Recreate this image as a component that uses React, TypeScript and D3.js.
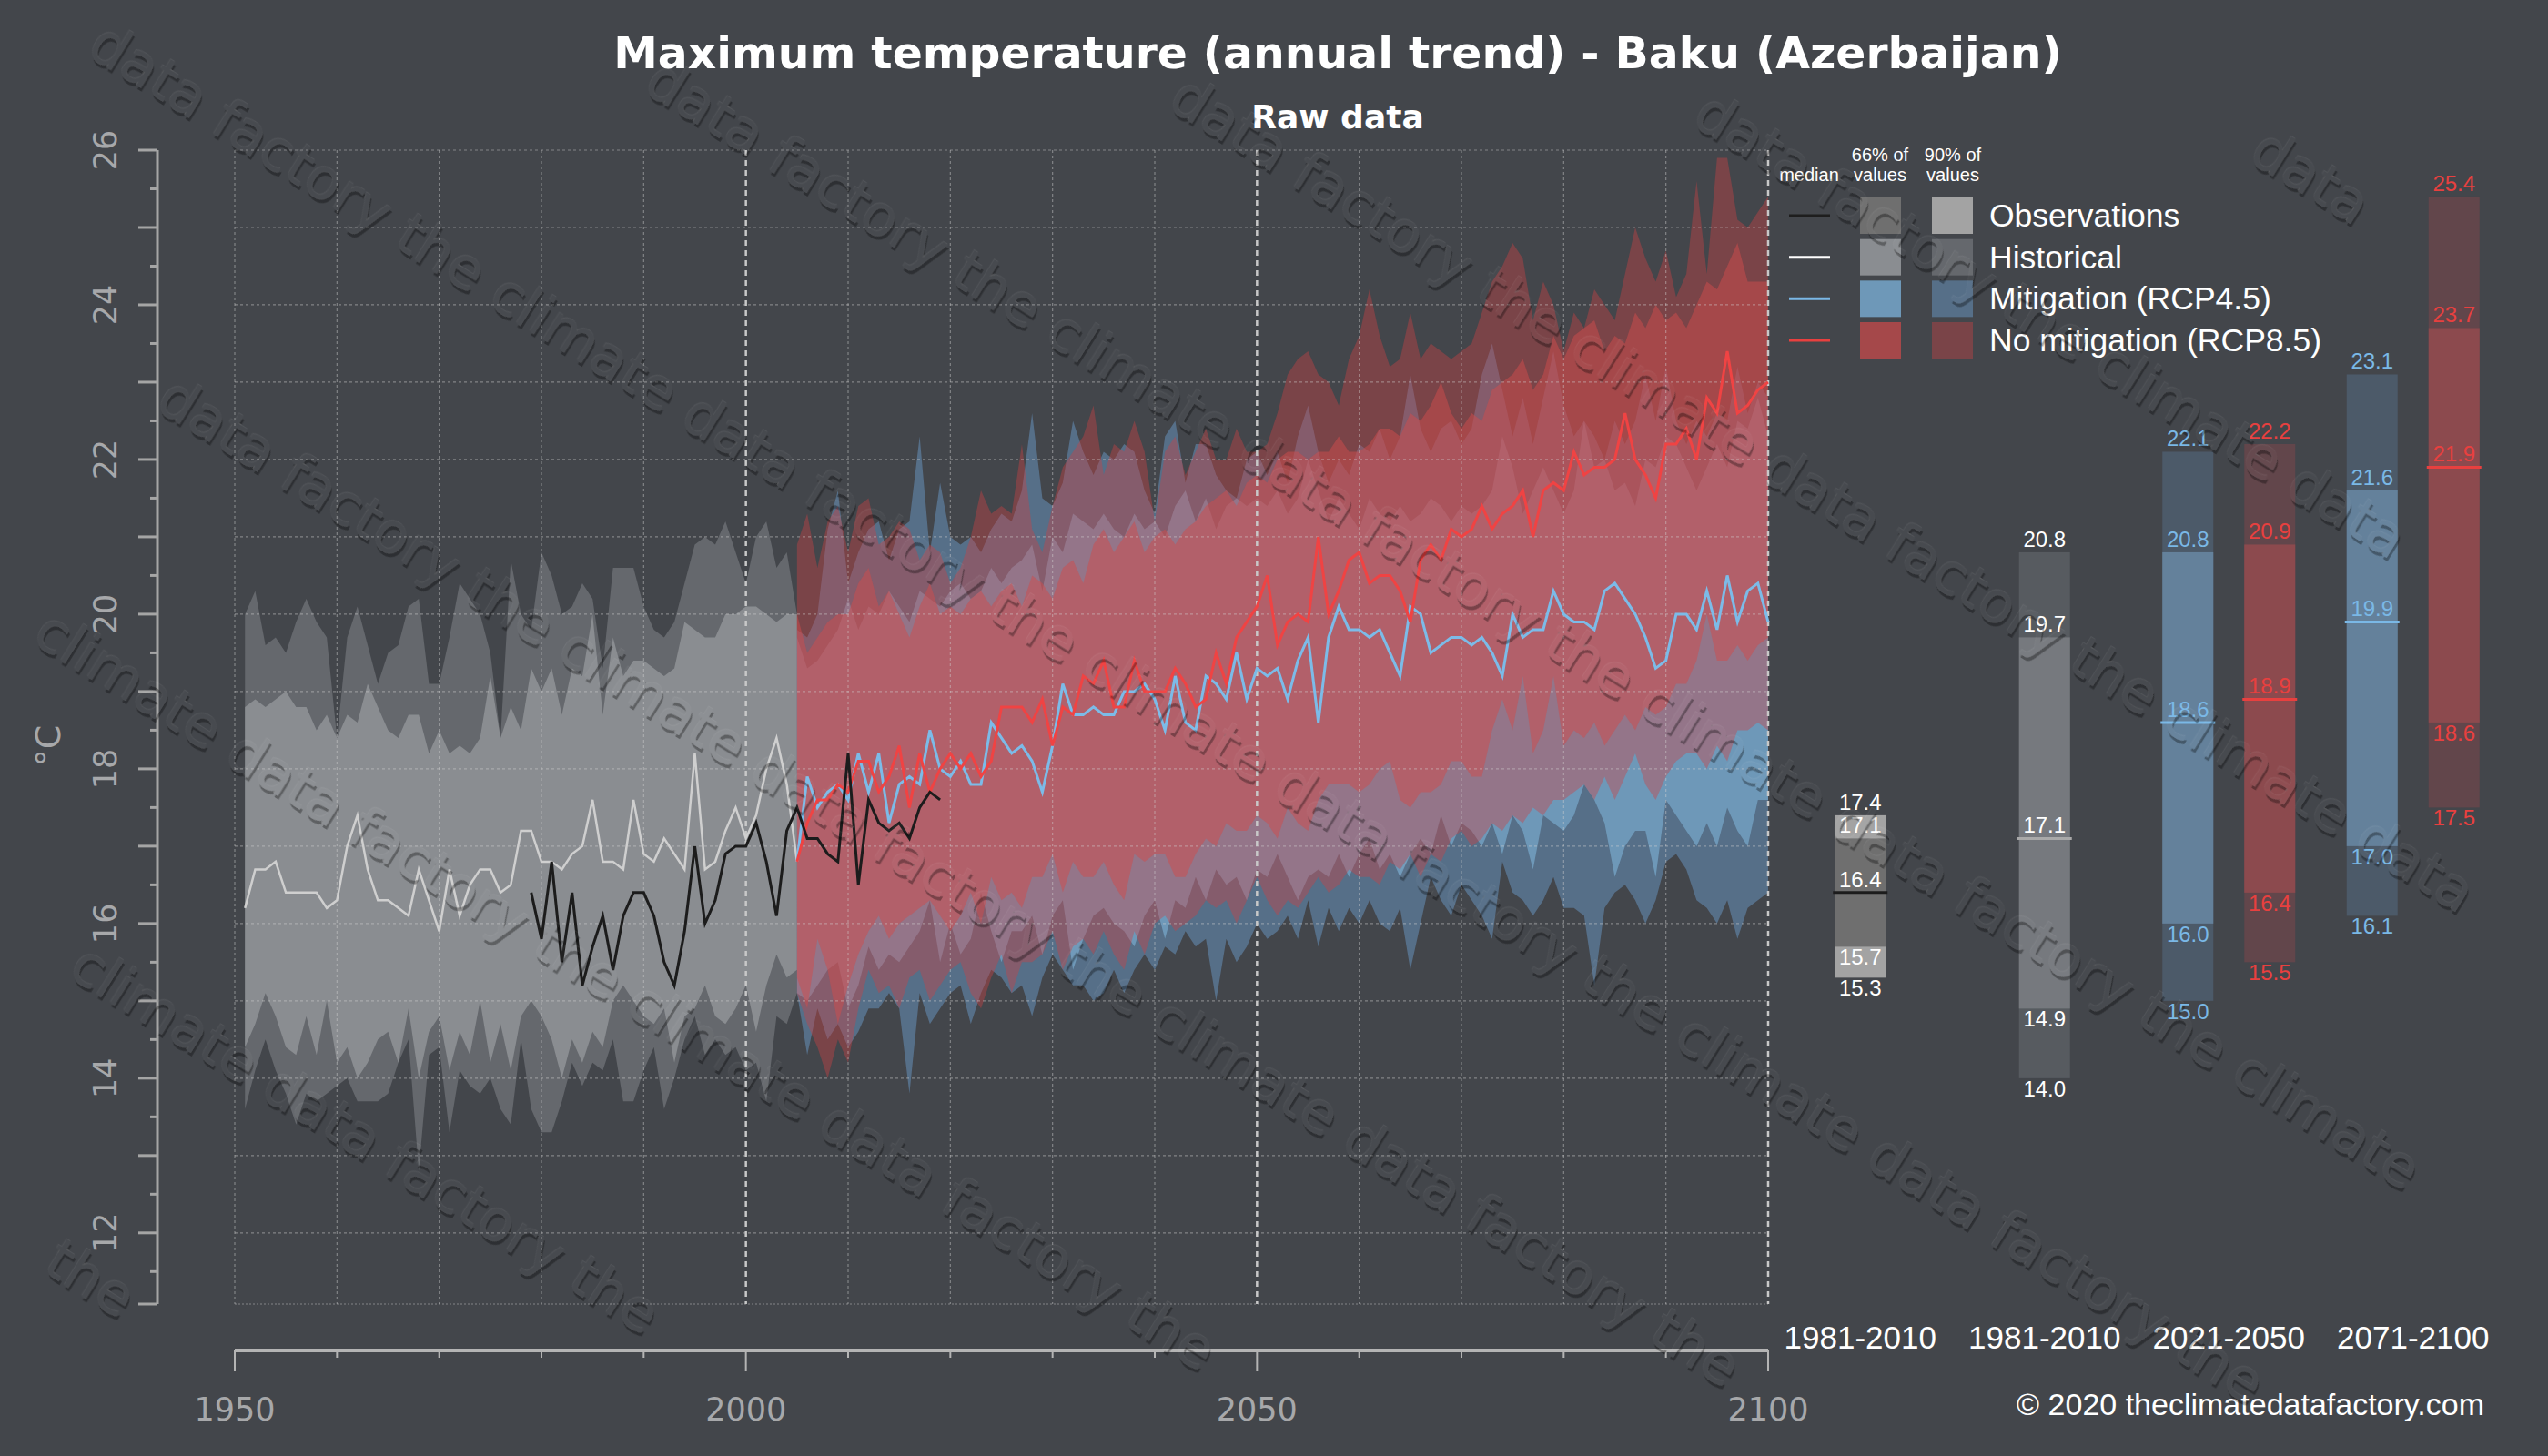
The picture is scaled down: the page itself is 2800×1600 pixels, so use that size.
import React from "react";
import * as d3 from "d3";

// ---------------- data (°C) ----------------
const HIST_START = 1951;
const histMedian = [
  16.2, 16.7, 16.7, 16.8, 16.4, 16.4, 16.4, 16.4, 16.2, 16.3,
  17.0, 17.4, 16.7, 16.3, 16.3, 16.2, 16.1, 16.7, 16.3, 15.9,
  16.7, 16.1, 16.5, 16.7, 16.7, 16.4, 16.5, 17.2, 17.2, 16.8,
  16.8, 16.7, 16.9, 17.0, 17.6, 16.8, 16.8, 16.7, 17.6, 16.9,
  16.8, 17.1, 16.9, 16.7, 18.2, 16.7, 16.8, 17.2, 17.5, 17.1,
  17.4, 18.0, 18.4, 17.8, 16.8,
];
const hist66Hi = [
  18.8, 18.9, 18.8, 18.9, 19.0, 18.8, 18.8, 18.5, 18.7, 18.4,
  18.7, 18.6, 19.1, 18.8, 18.5, 18.4, 18.7, 18.7, 18.2, 18.5,
  18.2, 18.3, 18.2, 18.4, 19.2, 18.4, 18.8, 18.5, 19.3, 19.0,
  19.3, 18.7, 19.3, 19.2, 20.0, 18.7, 19.7, 19.2, 19.4, 19.4,
  19.3, 19.2, 19.3, 19.9, 19.8, 19.7, 19.7, 20.0, 20.0, 20.1,
  20.1, 20.0, 19.9, 20.0, 20.0,
];
const hist90Hi = [
  20.0, 20.3, 19.6, 19.7, 19.5, 19.9, 20.2, 19.9, 19.7, 18.4,
  19.7, 20.1, 19.6, 19.1, 19.5, 19.6, 20.1, 20.2, 19.1, 19.1,
  19.7, 20.4, 20.2, 20.0, 19.5, 18.4, 20.7, 20.0, 19.8, 20.8,
  20.5, 20.0, 20.1, 20.4, 20.2, 19.3, 20.6, 20.6, 20.6, 20.1,
  19.8, 19.7, 19.9, 20.4, 20.9, 21.0, 20.9, 21.2, 20.8, 20.4,
  21.0, 21.2, 20.6, 20.8, 20.0,
];
const hist66Lo = [
  14.4, 14.7, 15.1, 14.8, 14.4, 14.3, 14.8, 14.3, 15.0, 14.2,
  14.4, 14.0, 14.2, 14.5, 14.6, 14.2, 14.9, 14.0, 14.6, 14.8,
  14.1, 14.6, 14.3, 15.0, 14.2, 14.7, 14.1, 14.8, 15.0, 14.8,
  14.5, 14.0, 14.5, 14.2, 14.6, 14.4, 15.0, 15.2, 15.0, 14.8,
  14.7, 14.9, 14.2, 14.8, 14.9, 15.2, 14.8, 14.7, 14.9, 15.2,
  14.6, 15.2, 15.6, 15.3, 15.4,
];
const hist90Lo = [
  13.6, 14.1, 14.5, 14.1, 13.8, 13.4, 13.8, 13.7, 13.8, 13.9,
  14.0, 13.7, 13.7, 13.7, 13.8, 14.2, 14.5, 12.8, 14.3, 14.4,
  13.3, 14.1, 13.9, 13.8, 14.0, 13.6, 13.4, 14.5, 13.6, 13.3,
  13.3, 13.7, 14.2, 13.9, 14.2, 14.1, 14.5, 13.7, 13.7, 14.1,
  14.4, 13.6, 14.0, 14.5, 14.8, 14.3, 14.5, 14.3, 14.4, 14.1,
  14.2, 13.7, 14.8, 14.7, 15.1,
];

const OBS_START = 1979;
const obsValues = [
  16.4, 15.8, 16.8, 15.5, 16.4, 15.2, 15.7, 16.1, 15.4, 16.1,
  16.4, 16.4, 16.1, 15.5, 15.2, 15.9, 17.0, 16.0, 16.3, 16.9,
  17.0, 17.0, 17.3, 16.8, 16.1, 17.2, 17.5, 17.1, 17.1, 16.9,
  16.8, 18.2, 16.5, 17.6, 17.3, 17.2, 17.3, 17.1, 17.5, 17.7,
  17.6,
];

const RCP_START = 2005;
const rcp45Median = [
  16.8, 17.9, 17.5, 17.7, 17.8, 17.6, 18.2, 17.7, 18.2, 17.3,
  17.8, 17.9, 17.8, 18.5, 18.0, 17.9, 18.1, 17.8, 17.8, 18.6,
  18.4, 18.2, 18.3, 18.1, 17.7, 18.3, 19.1, 18.7, 18.7, 18.8,
  18.7, 18.7, 19.0, 19.0, 19.1, 18.9, 18.5, 19.2, 18.6, 18.5,
  19.2, 19.1, 18.9, 19.5, 18.9, 19.3, 19.2, 19.3, 18.9, 19.4,
  19.7, 18.6, 19.7, 20.1, 19.8, 19.8, 19.7, 19.8, 19.5, 19.2,
  20.1, 20.0, 19.5, 19.6, 19.7, 19.7, 19.6, 19.7, 19.5, 19.2,
  20.0, 19.7, 19.8, 19.8, 20.3, 20.0, 19.9, 19.9, 19.8, 20.3,
  20.4, 20.2, 20.0, 19.7, 19.3, 19.4, 20.0, 20.0, 19.8, 20.3,
  19.8, 20.5, 19.9, 20.3, 20.4, 19.9,
];
const rcp85Median = [
  16.8, 17.3, 17.6, 17.6, 17.8, 17.7, 18.1, 18.1, 17.7, 17.9,
  18.3, 17.5, 18.2, 17.7, 18.0, 18.2, 18.0, 18.2, 17.9, 18.1,
  18.8, 18.8, 18.8, 18.6, 18.9, 18.3, 18.8, 18.7, 19.2, 19.1,
  19.4, 18.8, 18.8, 19.4, 19.0, 19.0, 19.0, 19.3, 19.1, 18.8,
  18.9, 19.5, 19.1, 19.7, 19.9, 20.1, 20.5, 19.6, 19.9, 20.0,
  19.9, 21.0, 20.0, 20.3, 20.7, 20.8, 20.4, 20.5, 20.5, 20.3,
  19.9, 20.7, 20.9, 20.7, 21.1, 21.0, 21.1, 21.4, 21.1, 21.3,
  21.4, 21.6, 21.0, 21.6, 21.7, 21.6, 22.1, 21.8, 21.9, 21.9,
  22.0, 22.6, 22.0, 21.8, 21.5, 22.2, 22.2, 22.4, 22.0, 22.8,
  22.6, 23.4, 22.6, 22.7, 22.9, 23.0,
];
const rcp45Hi90 = [
  19.8, 19.7, 20.0, 21.1, 21.6, 20.4,
  20.8, 21.1, 21.2, 20.7, 21.1, 21.2, 22.3, 20.8, 21.7, 21.0,
  20.9, 21.0, 20.8, 21.1, 21.3, 21.2, 21.6, 22.6, 21.5, 21.4,
  21.7, 22.5, 22.1, 21.8, 22.1, 22.0, 22.2, 22.1, 21.6, 21.3,
  22.3, 22.5, 21.7, 22.2, 22.2, 21.8, 21.6, 21.5, 22.0, 22.1,
  21.8, 22.1, 21.7, 22.3, 22.7, 22.1, 21.7, 22.0, 21.8, 22.2,
  22.1, 22.4, 22.0, 22.3, 23.1, 22.4, 22.1, 22.4, 22.5, 22.2,
  22.4, 23.1, 23.5, 22.9, 22.3, 22.8, 22.2, 22.8, 23.4, 22.7,
  22.3, 22.5, 22.3, 22.0, 22.5, 22.2, 22.5, 23.1, 22.5, 23.2,
  22.5, 22.2, 22.5, 22.3, 22.6, 22.5, 23.2, 22.6, 23.0, 22.8,
];
const rcp45Hi66 = [
  19.7, 19.3, 19.4, 19.6, 19.8, 20.2,
  19.8, 20.1, 20.0, 20.3, 20.1, 19.9, 20.3, 20.2, 20.1, 20.3,
  20.4, 20.2, 20.3, 20.6, 20.4, 20.6, 20.7, 20.9, 20.3, 21.0,
  20.8, 21.3, 21.2, 21.1, 21.3, 21.1, 21.0, 21.3, 21.1, 21.2,
  21.0, 21.4, 21.6, 21.2, 21.5, 21.1, 21.4, 21.5, 21.4, 21.5,
  21.4, 21.6, 21.3, 21.5, 22.0, 21.6, 21.2, 21.5, 21.3, 21.1,
  21.5, 21.3, 21.2, 21.4, 21.2, 21.3, 21.5, 21.4, 21.2, 21.4,
  21.3, 21.4, 21.6, 22.3, 21.9, 21.3, 21.6, 21.9, 21.6, 21.3,
  21.6, 22.5, 21.9, 22.0, 21.6, 21.7, 21.4, 22.0, 21.9, 22.3,
  22.2, 21.9, 21.6, 21.9, 22.2, 21.9, 22.5, 22.4, 22.8, 22.3,
];
const rcp45Lo66 = [
  15.1, 15.0, 15.2, 15.4, 15.5, 14.9,
  15.2, 15.7, 15.4, 15.6, 15.5, 15.7, 15.9, 16.3, 15.5, 16.0,
  15.6, 15.8, 16.4, 15.9, 15.5, 15.9, 15.9, 16.1, 15.6, 16.1,
  16.3, 15.4, 15.8, 16.1, 16.2, 16.0, 15.9, 15.7, 16.1, 16.3,
  15.8, 16.3, 16.2, 16.6, 16.3, 16.7, 16.5, 16.6, 16.3, 16.7,
  16.6, 16.9, 16.6, 16.3, 16.6, 16.7, 16.6, 16.9, 16.6, 16.9,
  17.1, 16.7, 16.9, 16.6, 16.9, 17.1, 16.9, 17.4, 17.0, 17.3,
  17.2, 17.0, 17.3, 16.9, 17.4, 17.2, 16.7, 17.4, 17.3, 17.2,
  17.4, 17.8, 17.6, 17.3, 16.6, 17.0, 17.2, 17.2, 16.6, 17.6,
  17.4, 17.2, 17.0, 17.3, 17.0, 17.5, 17.2, 17.0, 17.6, 17.6,
];
const rcp45Lo90 = [
  15.1, 14.3, 14.9, 14.5, 14.7, 14.4,
  14.6, 14.9, 14.9, 15.1, 14.9, 13.8, 15.1, 14.7, 14.9, 15.1,
  15.2, 14.7, 15.1, 15.4, 15.3, 15.1, 15.2, 14.8, 15.3, 15.6,
  15.4, 15.2, 15.2, 15.0, 15.1, 15.4, 15.1, 15.4, 15.6, 15.4,
  15.7, 15.6, 15.9, 15.7, 15.8, 15.0, 15.8, 15.5, 15.7, 16.0,
  15.8, 15.9, 16.1, 15.8, 16.3, 15.7, 16.2, 15.9, 16.2, 16.0,
  16.3, 16.0, 15.9, 16.2, 15.4, 16.0, 16.6, 16.3, 16.1, 16.5,
  16.3, 16.1, 15.8, 16.8, 16.4, 16.3, 16.1, 16.3, 16.6, 16.2,
  16.2, 16.1, 15.2, 16.2, 16.4, 16.5, 16.3, 16.0, 16.3, 16.8,
  16.9, 16.7, 16.3, 16.2, 16.0, 16.3, 15.8, 16.2, 16.3, 16.4,
];
const rcp85Hi90 = [
  20.9, 21.3, 20.6, 21.2, 21.4, 20.8,
  21.4, 21.5, 20.9, 21.0, 21.2, 21.1, 20.7, 20.9, 20.8, 20.4,
  20.6, 21.0, 21.6, 21.3, 21.4, 21.3, 22.2, 21.1, 20.8, 21.4,
  21.9, 22.1, 22.3, 22.7, 21.8, 22.2, 22.1, 22.5, 22.1, 21.2,
  22.1, 22.3, 21.8, 22.1, 22.4, 22.0, 22.0, 22.4, 22.1, 22.1,
  22.2, 22.6, 23.1, 23.3, 23.4, 23.1, 23.0, 22.7, 23.3, 23.6,
  24.2, 23.6, 23.2, 23.3, 23.9, 23.3, 23.5, 23.4, 23.3, 23.4,
  23.5, 23.9, 24.3, 24.5, 24.8, 24.6, 23.8, 24.3, 24.0, 23.4,
  23.9, 23.7, 24.2, 24.0, 23.8, 24.4, 25.0, 24.6, 24.3, 24.7,
  24.1, 24.4, 25.6, 24.4, 25.9, 25.9, 25.1, 25.0, 25.2, 25.4,
];
const rcp85Hi66 = [
  20.0, 19.5, 19.7, 19.9, 20.0, 20.0,
  20.4, 20.6, 20.1, 20.3, 20.0, 19.7, 20.1, 20.4, 20.0, 20.1,
  20.0, 20.2, 20.3, 20.1, 20.3, 20.4, 20.1, 20.5, 20.4, 20.2,
  20.6, 20.7, 20.4, 20.9, 21.1, 20.8, 21.0, 21.2, 20.8, 21.0,
  21.1, 20.9, 21.1, 21.2, 21.4, 21.5, 21.6, 21.4, 21.7, 21.8,
  21.7, 22.0, 22.1, 22.1, 22.0, 22.1, 22.1, 22.3, 22.1, 22.1,
  22.2, 22.4, 22.4, 22.3, 22.6, 22.5, 22.7, 23.0, 22.6, 22.4,
  22.6, 22.5, 22.9, 23.0, 23.1, 23.3, 22.9, 23.1, 23.6, 23.3,
  23.6, 23.7, 23.8, 23.4, 23.6, 23.5, 23.9, 23.7, 24.0, 23.8,
  23.9, 23.7, 24.0, 24.3, 24.2, 24.5, 24.8, 24.3, 24.3, 24.3,
];
const rcp85Lo66 = [
  15.3, 14.9, 15.8, 15.4, 14.7, 15.2,
  15.6, 15.9, 16.1, 15.8, 16.0, 16.1, 16.2, 16.3, 16.1, 15.9,
  16.1, 16.4, 16.0, 16.6, 16.3, 16.4, 16.2, 16.6, 16.6, 16.9,
  16.4, 16.8, 16.6, 16.6, 16.8, 16.5, 16.3, 16.9, 16.8, 16.9,
  16.9, 16.6, 16.6, 16.9, 17.1, 17.0, 17.3, 17.2, 17.2, 17.4,
  17.3, 17.1, 17.5, 17.3, 17.2, 17.6, 17.8, 17.8, 17.8, 17.7,
  17.8, 18.0, 18.1, 17.6, 17.5, 17.7, 17.7, 17.8, 18.1, 18.1,
  17.9, 17.9, 18.5, 18.9, 18.5, 19.2, 18.2, 18.5, 19.2, 18.3,
  18.5, 18.4, 18.6, 18.3, 18.5, 18.7, 18.5, 18.8, 18.7, 18.8,
  19.1, 19.1, 19.4, 20.0, 19.4, 19.4, 19.6, 19.4, 19.6, 19.7,
];
const rcp85Lo90 = [
  15.1, 14.7, 14.4, 14.0, 14.5, 14.2,
  14.9, 15.4, 15.1, 15.2, 14.9, 15.3, 15.4, 15.0, 15.2, 15.4,
  15.5, 15.1, 14.9, 15.3, 15.6, 15.1, 15.5, 15.5, 15.6, 15.9,
  15.4, 15.7, 15.8, 15.6, 15.9, 15.6, 15.4, 15.9, 15.6, 16.0,
  16.1, 15.9, 16.0, 16.1, 16.3, 16.2, 16.3, 16.0, 16.3, 16.6,
  16.3, 16.1, 16.3, 16.2, 16.4, 16.6, 16.4, 16.5, 16.7, 16.6,
  16.6, 16.5, 16.8, 16.7, 16.9, 16.6, 16.9, 16.8, 17.1, 17.2,
  17.0, 17.1, 17.3, 17.2, 17.4, 17.3, 17.5, 17.4, 17.6, 17.6,
  17.7, 17.8, 17.6, 17.9, 17.6, 17.9, 18.2, 17.8, 17.6, 17.9,
  18.1, 18.2, 18.2, 18.0, 18.3, 18.1, 18.5, 18.5, 18.6, 18.5,
];

// summary bars: [5%, 17%, median, 83%, 95%]
const boxGroups = ["obs", "hist", "mid", "end"];
const periodLabels = ["1981-2010", "1981-2010", "2021-2050", "2071-2100"];
const obsBox = [15.3, 15.7, 16.4, 17.1, 17.4];
const histBox = [14.0, 14.9, 17.1, 19.7, 20.8];
const rcp45MidBox = [15.0, 16.0, 18.6, 20.8, 22.1];
const rcp85MidBox = [15.5, 16.4, 18.9, 20.9, 22.2];
const rcp45EndBox = [16.1, 17.0, 19.9, 21.6, 23.1];
const rcp85EndBox = [17.5, 18.6, 21.9, 23.7, 25.4];

const legendRows = ["Observations", "Historical", "Mitigation (RCP4.5)", "No mitigation (RCP8.5)"];
const xLabels = [1950, 2000, 2050, 2100];
const yLabels = [12, 14, 16, 18, 20, 22, 24, 26];

// ---------------- styles ----------------
const BG = "#43464b";
const SANS = "'Liberation Sans', Arial, sans-serif";
const DEJA = "'DejaVu Sans', sans-serif";
const AXIS_TXT = "#a7a8aa";

const legendStyles = [
  { med: "#1e1e1e", c66: "#6f6f6f", c90: "#a3a3a3" },
  { med: "#ffffff", c66: "#8a8d91", c90: "#65686d" },
  { med: "#7ab8e6", c66: "#6e98b8", c90: "#566f88" },
  { med: "#e8403f", c66: "#a5484a", c90: "#7a4448" },
];

// watermark words, with advance widths (em) in DejaVu Sans
const wmWords = [
  { w: "the", em: 1.641 },
  { w: "climate", em: 3.7 },
  { w: "data", em: 2.253 },
  { w: "factory", em: 3.522 },
];

export default function App() {
  const W = 2800;
  const H = 1600;
  const x = d3.scaleLinear().domain([1950, 2100]).range([258, 1943]);
  const y = d3.scaleLinear().domain([11.08, 26]).range([1433, 165]);
  const plotTop = y(26);
  const plotBottom = y(11.08);

  const band = (lo: number[], hi: number[], start: number) =>
    d3
      .area<number>()
      .x((_, i) => x(start + i))
      .y0((_, i) => y(lo[i]))
      .y1((_, i) => y(hi[i]))(lo) || "";
  const line = (vals: number[], start: number) =>
    d3
      .line<number>()
      .x((_, i) => x(start + i))
      .y((d) => y(d))(vals) || "";

  const gx = d3.scaleBand().domain(boxGroups).range([1943, 2753]);
  const gc = (g: string) => (gx(g) as number) + gx.bandwidth() / 2;
  const legY = d3.scalePoint().domain(legendRows).range([237, 374]);

  const decades = d3.range(1950, 2101, 10);
  const gridVals = d3.range(12, 27, 1);
  const halfTicks = d3.range(11.5, 26, 1);

  const drawBox = (
    vals: number[],
    cx: number,
    outer: string,
    inner: string,
    med: string,
    txt: string,
    key: string
  ) => {
    const [p5, p17, m, p83, p95] = vals;
    const w = 56;
    const ts = { fontFamily: SANS, fontSize: 24, fill: txt, textAnchor: "middle" as const };
    return (
      <g key={key}>
        <rect x={cx - w / 2} y={y(p95)} width={w} height={y(p5) - y(p95)} fill={outer} />
        <rect x={cx - w / 2} y={y(p83)} width={w} height={y(p17) - y(p83)} fill={inner} />
        <line x1={cx - w / 2 - 2} x2={cx + w / 2 + 2} y1={y(m)} y2={y(m)} stroke={med} strokeWidth={3} />
        {[p95, p83, m].map((v, i) => (
          <text key={"u" + i} x={cx} y={y(v) - 6} {...ts}>{v.toFixed(1)}</text>
        ))}
        {[p17, p5].map((v, i) => (
          <text key={"l" + i} x={cx} y={y(v) + 20} {...ts}>{v.toFixed(1)}</text>
        ))}
      </g>
    );
  };

  // watermark: words laid along rotated rows, kept only when fully inside the page
  const wmSize = 62;
  const ang = (32 * Math.PI) / 180;
  const ca = Math.cos(ang);
  const sa = Math.sin(ang);
  const toScreen = (u: number, v: number) => [u * ca - v * sa, u * sa + v * ca];
  const inside = (p: number[]) => p[0] >= 6 && p[0] <= W - 6 && p[1] >= 6 && p[1] <= H - 6;
  const wmPlaced: { u: number; v: number; t: string }[] = [];
  d3.range(-6, 6).forEach((k) => {
    const v = k * 290;
    let u = -260 + ((k + 6) % 3) * 270;
    let wi = 0;
    while (u < 3400) {
      const word = wmWords[wi % 4];
      const len = word.em * wmSize;
      const top = v - wmSize * 0.82;
      const bot = v + wmSize * 0.26;
      const corners = [toScreen(u, top), toScreen(u + len, top), toScreen(u, bot), toScreen(u + len, bot)];
      if (corners.every(inside)) wmPlaced.push({ u, v, t: word.w });
      u += len + 0.318 * wmSize;
      wi += 1;
    }
  });

  return (
    <svg
      width={W}
      height={H}
      viewBox={`0 0 ${W} ${H}`}
      style={{ position: "absolute", left: 0, top: 0, display: "block" }}
    >
      <defs>
        <filter id="emboss" filterUnits="userSpaceOnUse" x={-4000} y={-4000} width={10000} height={10000}>
          <feOffset in="SourceAlpha" dx={2.5} dy={3} result="off" />
          <feComposite in="off" in2="SourceAlpha" operator="out" result="edge" />
          <feFlood floodColor="#000000" floodOpacity={0.32} result="dark" />
          <feComposite in="dark" in2="edge" operator="in" result="shadow" />
          <feOffset in="SourceAlpha" dx={-1} dy={-1} result="off2" />
          <feComposite in="off2" in2="SourceAlpha" operator="out" result="edge2" />
          <feFlood floodColor="#ffffff" floodOpacity={0.07} result="light" />
          <feComposite in="light" in2="edge2" operator="in" result="hl" />
          <feFlood floodColor="#ffffff" floodOpacity={0.025} result="face" />
          <feComposite in="face" in2="SourceAlpha" operator="in" result="facefill" />
          <feMerge>
            <feMergeNode in="shadow" />
            <feMergeNode in="hl" />
            <feMergeNode in="facefill" />
          </feMerge>
        </filter>
      </defs>

      <rect x={0} y={0} width={W} height={H} fill={BG} />

      {/* historical bands */}
      <path d={band(hist90Lo, hist90Hi, HIST_START)} fill="#65686d" />
      <path d={band(hist66Lo, hist66Hi, HIST_START)} fill="#8a8d91" />

      {/* scenario bands */}
      <path d={band(rcp45Lo90, rcp45Hi90, RCP_START)} fill="#6998c5" fillOpacity={0.5} />
      <path d={band(rcp45Lo66, rcp45Hi66, RCP_START)} fill="#86c1e8" fillOpacity={0.5} />
      <path d={band(rcp85Lo90, rcp85Hi90, RCP_START)} fill="#cc4143" fillOpacity={0.4} />
      <path d={band(rcp85Lo66, rcp85Hi66, RCP_START)} fill="#d04c4c" fillOpacity={0.5} />

      {/* grid (drawn over the bands) */}
      <g stroke="#d0d0d0" strokeOpacity={0.45} strokeWidth={1.2}>
        {gridVals.map((v) => (
          <line key={"h" + v} x1={x(1950)} x2={x(2100)} y1={y(v)} y2={y(v)} strokeDasharray="3,3" />
        ))}
        <line x1={x(1950)} x2={x(2100)} y1={plotBottom} y2={plotBottom} strokeDasharray="2,2" />
        {decades.map((d) =>
          d % 50 === 0 && d > 1950 ? null : (
            <line key={"v" + d} x1={x(d)} x2={x(d)} y1={plotTop} y2={plotBottom} strokeDasharray="3,3" />
          )
        )}
      </g>
      {[2000, 2050, 2100].map((d) => (
        <line key={"m" + d} x1={x(d)} x2={x(d)} y1={plotTop} y2={plotBottom}
          stroke="#c8c8c8" strokeWidth={2.5} strokeDasharray="6,5" />
      ))}

      {/* median lines */}
      <path d={line(histMedian, HIST_START)} fill="none" stroke="#cfcfcf" strokeWidth={2.5} />
      <path d={line(rcp45Median, RCP_START)} fill="none" stroke="#7cbbe8" strokeWidth={3} />
      <path d={line(rcp85Median, RCP_START)} fill="none" stroke="#f04343" strokeWidth={3} />
      <path d={line(obsValues, OBS_START)} fill="none" stroke="#1c1c1c" strokeWidth={3} />

      {/* y axis */}
      <g>
        <line x1={173} x2={173} y1={plotTop} y2={plotBottom} stroke="#a5a5a5" strokeWidth={3} />
        {gridVals.map((v) => (
          <line key={"yt" + v} x1={152} x2={173} y1={y(v)} y2={y(v)} stroke="#a5a5a5" strokeWidth={3} />
        ))}
        {halfTicks.map((v) => (
          <line key={"yh" + v} x1={165} x2={173} y1={y(v)} y2={y(v)} stroke="#a5a5a5" strokeWidth={3} />
        ))}
        <line x1={152} x2={173} y1={plotBottom} y2={plotBottom} stroke="#a5a5a5" strokeWidth={3} />
        {yLabels.map((v) => (
          <text key={"yl" + v} transform={`translate(128,${y(v)}) rotate(-90)`}
            fontFamily={DEJA} fontSize={35} fill={AXIS_TXT} textAnchor="middle">{v}</text>
        ))}
        <text transform={`translate(66,${y(18.3)}) rotate(-90)`} fontFamily={DEJA} fontSize={38}
          fill={AXIS_TXT} textAnchor="middle">°C</text>
      </g>

      {/* x axis */}
      <g>
        <line x1={x(1950)} x2={x(2100)} y1={1484} y2={1484} stroke="#b4b4b4" strokeWidth={4} />
        {decades.map((d) => (
          <line key={"xt" + d} x1={x(d)} x2={x(d)} y1={1484} y2={d % 50 === 0 ? 1507 : 1492}
            stroke="#b4b4b4" strokeWidth={2} />
        ))}
        {xLabels.map((d) => (
          <text key={"xl" + d} x={x(d)} y={1561} fontFamily={DEJA} fontSize={35} fill={AXIS_TXT}
            textAnchor="middle">{d}</text>
        ))}
      </g>

      {/* summary bars */}
      {drawBox(obsBox, gc("obs"), "#a3a3a3", "#6f6f6f", "#1c1c1c", "#ffffff", "bo")}
      {drawBox(histBox, gc("hist"), "#575b60", "#76797e", "#a9a9a9", "#ffffff", "bh")}
      {drawBox(rcp45MidBox, gc("mid") - 45, "#4c5a69", "#64819b", "#7ab8e6", "#7ab8e6", "b45m")}
      {drawBox(rcp85MidBox, gc("mid") + 45, "#62464b", "#8c4a4e", "#e8403f", "#e8403f", "b85m")}
      {drawBox(rcp45EndBox, gc("end") - 45, "#4c5a69", "#64819b", "#7ab8e6", "#7ab8e6", "b45e")}
      {drawBox(rcp85EndBox, gc("end") + 45, "#62464b", "#8c4a4e", "#e8403f", "#e8403f", "b85e")}
      {boxGroups.map((g, i) => (
        <text key={"pl" + g} x={gc(g)} y={1482} fontFamily={SANS} fontSize={35} fill="#ffffff"
          textAnchor="middle">{periodLabels[i]}</text>
      ))}

      {/* legend */}
      <g fontFamily={SANS} fill="#ffffff">
        <text x={1988} y={199} fontSize={20} textAnchor="middle">median</text>
        <text x={2066} y={177} fontSize={20} textAnchor="middle">66% of</text>
        <text x={2066} y={199} fontSize={20} textAnchor="middle">values</text>
        <text x={2146} y={177} fontSize={20} textAnchor="middle">90% of</text>
        <text x={2146} y={199} fontSize={20} textAnchor="middle">values</text>
        {legendRows.map((r, i) => {
          const cy = legY(r) as number;
          const st = legendStyles[i];
          return (
            <g key={r}>
              <line x1={1966} x2={2011} y1={cy} y2={cy} stroke={st.med} strokeWidth={3} />
              <rect x={2044} y={cy - 20} width={45} height={40} fill={st.c66} />
              <rect x={2123} y={cy - 20} width={45} height={40} fill={st.c90} />
              <text x={2186} y={cy + 12} fontSize={35.5}>{r}</text>
            </g>
          );
        })}
      </g>

      {/* titles */}
      <text x={1470} y={75} fontFamily={DEJA} fontWeight="bold" fontSize={48.8} fill="#ffffff"
        textAnchor="middle">Maximum temperature (annual trend) - Baku (Azerbaijan)</text>
      <text x={1470} y={141} fontFamily={DEJA} fontWeight="bold" fontSize={36} fill="#ffffff"
        textAnchor="middle">Raw data</text>
      <text x={2730} y={1555} fontFamily={SANS} fontSize={34} fill="#ffffff" textAnchor="end">
        © 2020 theclimatedatafactory.com
      </text>

      {/* watermark */}
      <g transform="rotate(32)" fontFamily={DEJA} fontSize={wmSize} fill="#000" filter="url(#emboss)"
        pointerEvents="none">
        {wmPlaced.map((p, i) => (
          <text key={"wm" + i} x={p.u} y={p.v}>{p.t}</text>
        ))}
      </g>
    </svg>
  );
}
